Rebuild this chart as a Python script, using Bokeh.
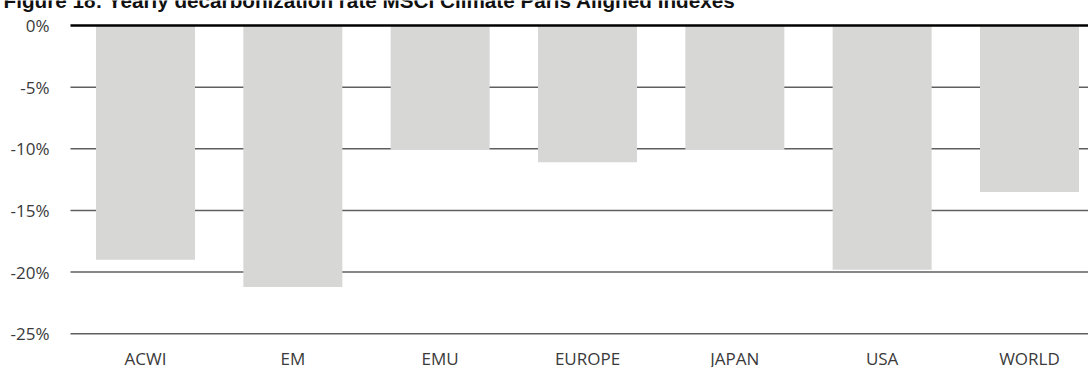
from bokeh.plotting import figure
from bokeh.models import Range1d, FixedTicker, PrintfTickFormatter
from bokeh.core.properties import value
from bokeh.embed import file_html
from bokeh.resources import INLINE

categories = ["ACWI", "EM", "EMU", "EUROPE", "JAPAN", "USA", "WORLD"]
values = [-19.0, -21.2, -10.1, -11.1, -10.1, -19.8, -13.5]
y_ticks = [0, -5, -10, -15, -20, -25]
title_text = "Figure 18: Yearly decarbonization rate MSCI Climate Paris Aligned Indexes"

W, H = 1088, 367
axis_px = 70             # where the value axis / grid lines start
cat_axis_px = 337        # where the category axis sits (px from top)
frame_h = H
ppu = 12.33              # pixels per percentage point
y_top = 25 / ppu         # zero line 25 px below top
y_bot = y_top - frame_h / ppu
step = 147.33            # pixels per category
x_start = -145 / step    # first category centre 145 px from left
x_end = x_start + W / step
x_axis_loc = x_start + axis_px / step
y_axis_loc = y_top - cat_axis_px / ppu

p = figure(width=W, height=H, x_range=Range1d(x_start, x_end), y_range=Range1d(y_bot, y_top),
           output_backend="svg", toolbar_location=None,
           min_border_left=0, min_border_right=0, min_border_top=0, min_border_bottom=0)
p.outline_line_color = None
p.background_fill_color = "white"
p.border_fill_color = "white"
p.xgrid.grid_line_color = None
p.ygrid.grid_line_color = None

# horizontal grid lines starting at the value axis
grid_ticks = [t for t in y_ticks if t != 0]
p.segment(x0=[x_axis_loc] * len(grid_ticks), x1=[x_end] * len(grid_ticks),
          y0=grid_ticks, y1=grid_ticks, line_color="#5f5f5f", line_width=1.5)

p.vbar(x=list(range(len(categories))), top=values, bottom=0, width=0.672,
       fill_color="#D7D7D6", line_color=None)

# zero line
p.segment(x0=[x_axis_loc], x1=[x_end], y0=[0], y1=[0], line_color="black", line_width=2.5)

label_font = "Open Sans"
label_color = "#3a3a3a"
p.yaxis.fixed_location = x_axis_loc
p.yaxis.ticker = FixedTicker(ticks=y_ticks)
p.yaxis.formatter = PrintfTickFormatter(format="%d%%")
p.yaxis.axis_line_color = None
p.yaxis.major_tick_line_color = None
p.yaxis.minor_tick_line_color = None
p.yaxis.major_label_standoff = 15
p.yaxis.major_label_text_font = label_font
p.yaxis.major_label_text_font_size = "17px"
p.yaxis.major_label_text_color = label_color

p.xaxis.fixed_location = y_axis_loc
p.xaxis.ticker = FixedTicker(ticks=list(range(len(categories))))
p.xaxis.major_label_overrides = {i: c for i, c in enumerate(categories)}
p.xaxis.axis_line_color = None
p.xaxis.major_tick_line_color = None
p.xaxis.minor_tick_line_color = None
p.xaxis.major_label_standoff = 3
p.xaxis.major_label_text_font = label_font
p.xaxis.major_label_text_font_size = "17px"
p.xaxis.major_label_text_color = label_color

# title: only its lower part is visible at the top edge, as in the reference
p.text(x=[x_start + 3 / step], y=[y_top + 0.5 / ppu], text=[title_text],
       text_font=value("Liberation Sans"), text_font_style="bold", text_font_size="20.7px",
       text_color="#111111", text_baseline="alphabetic", text_align="left")

open("out.html", "w").write(file_html(p, INLINE))
